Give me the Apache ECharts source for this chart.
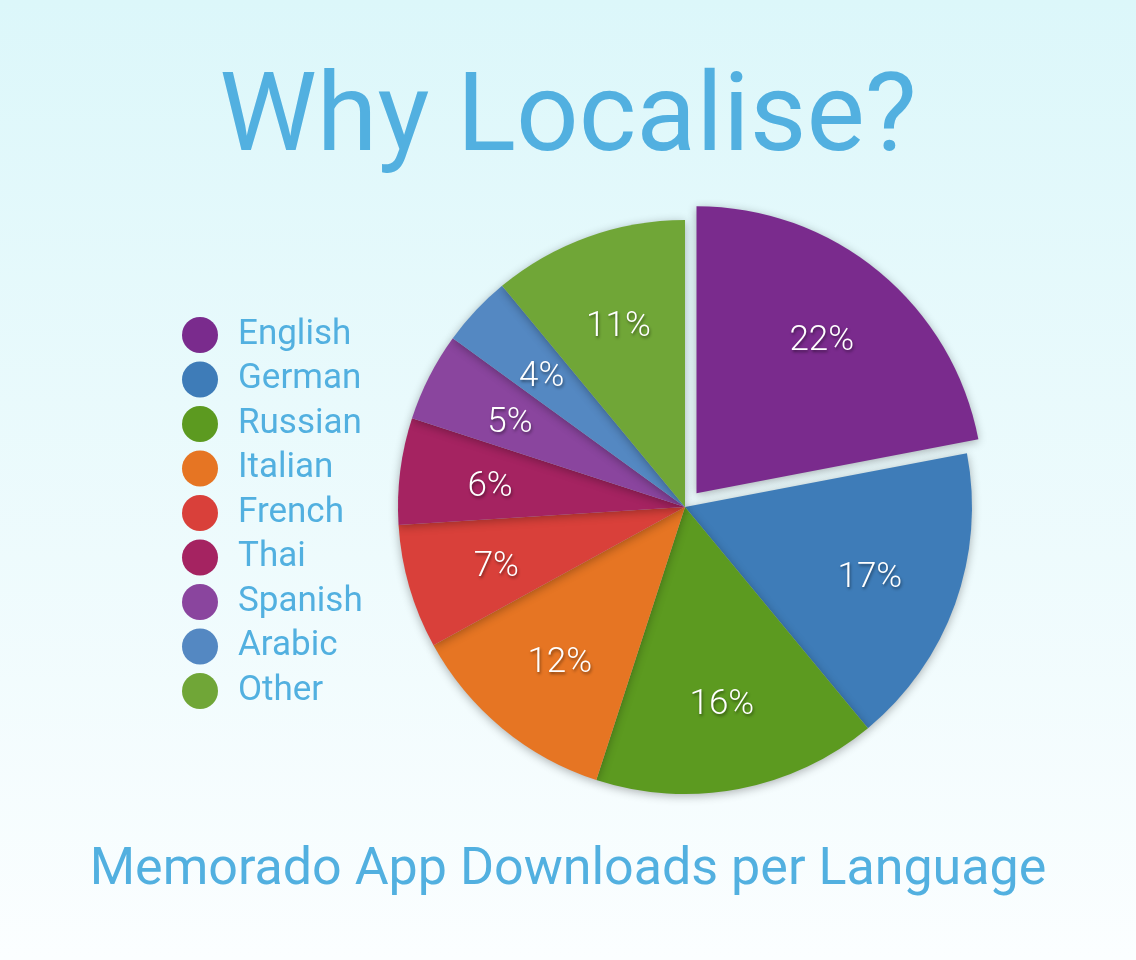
<!DOCTYPE html>
<html>
<head>
<meta charset="utf-8">
<script src="https://cdn.jsdelivr.net/npm/echarts@6/dist/echarts.min.js"></script>
<style>html,body{margin:0;padding:0;}#c{width:1136px;height:960px;}</style>
</head>
<body>
<div id="c"></div>
<script>
const categories = ['English','German','Russian','Italian','French','Thai','Spanish','Arabic','Other'];
const shares = [22,17,16,12,7,6,5,4,11];
const colors = ['#7A2B8D','#3E7CB8','#5C9A20','#E67523','#D9403A','#A52361','#8A459E','#5488C2','#70A637'];
const titleText = 'Why Localise?';
const subtitleText = 'Memorado App Downloads per Language';

const FONT = 'Roboto';
const TXT = '#52B0E0';

const mainData = categories.map((n,i)=>({name:n, value:shares[i], selected: i===0, itemStyle:{color:colors[i]}}));
const labelData = categories.map((n,i)=>({name:n, value:shares[i], selected: i===0}));

const chart = echarts.init(document.getElementById('c'));
chart.setOption({
  backgroundColor: {type:'linear', x:0, y:0, x2:0, y2:1, colorStops:[{offset:0, color:'#dcf7fa'},{offset:1, color:'#fbfeff'}]},
  animation: false,
  title: [
    {text: titleText, left: 'center', top: 62, textStyle:{fontFamily:FONT, fontWeight:'normal', fontSize:110, color:TXT}},
    {text: subtitleText, left: 'center', top: 840, textStyle:{fontFamily:FONT, fontWeight:'normal', fontSize:52, color:TXT}}
  ],
  legend: {
    orient:'vertical', left:182, top:317, padding:0,
    icon:'circle', itemWidth:36, itemHeight:36, itemGap:8.5,
    textStyle:{fontFamily:FONT, fontSize:35, color:TXT, padding:[0,0,0,15]},
    data: categories, selectedMode:false
  },
  series: [
    {
      type:'pie', center:[685,507], radius:[0,287], startAngle:90, clockwise:true,
      selectedMode:'single', selectedOffset:18, silent:true,
      label:{show:false}, labelLine:{show:false},
      itemStyle:{shadowBlur:10, shadowColor:'rgba(0,0,0,0.3)', shadowOffsetY:2},
      emphasis:{disabled:true},
      data: mainData
    },
    {
      type:'pie', center:[685,507], radius:[100,287], startAngle:90, clockwise:true,
      selectedMode:'single', selectedOffset:18, silent:true,
      itemStyle:{color:'rgba(0,0,0,0)'},
      label:{show:true, position:'inside', formatter:'{c}%', fontFamily:FONT, fontWeight:300, fontSize:35, color:'#fff',
        offset:[0,5],
        textShadowColor:'rgba(0,0,0,0.45)', textShadowBlur:3, textShadowOffsetX:1, textShadowOffsetY:2},
      labelLine:{show:false},
      emphasis:{disabled:true},
      data: labelData
    }
  ]
});
</script>
</body>
</html>
